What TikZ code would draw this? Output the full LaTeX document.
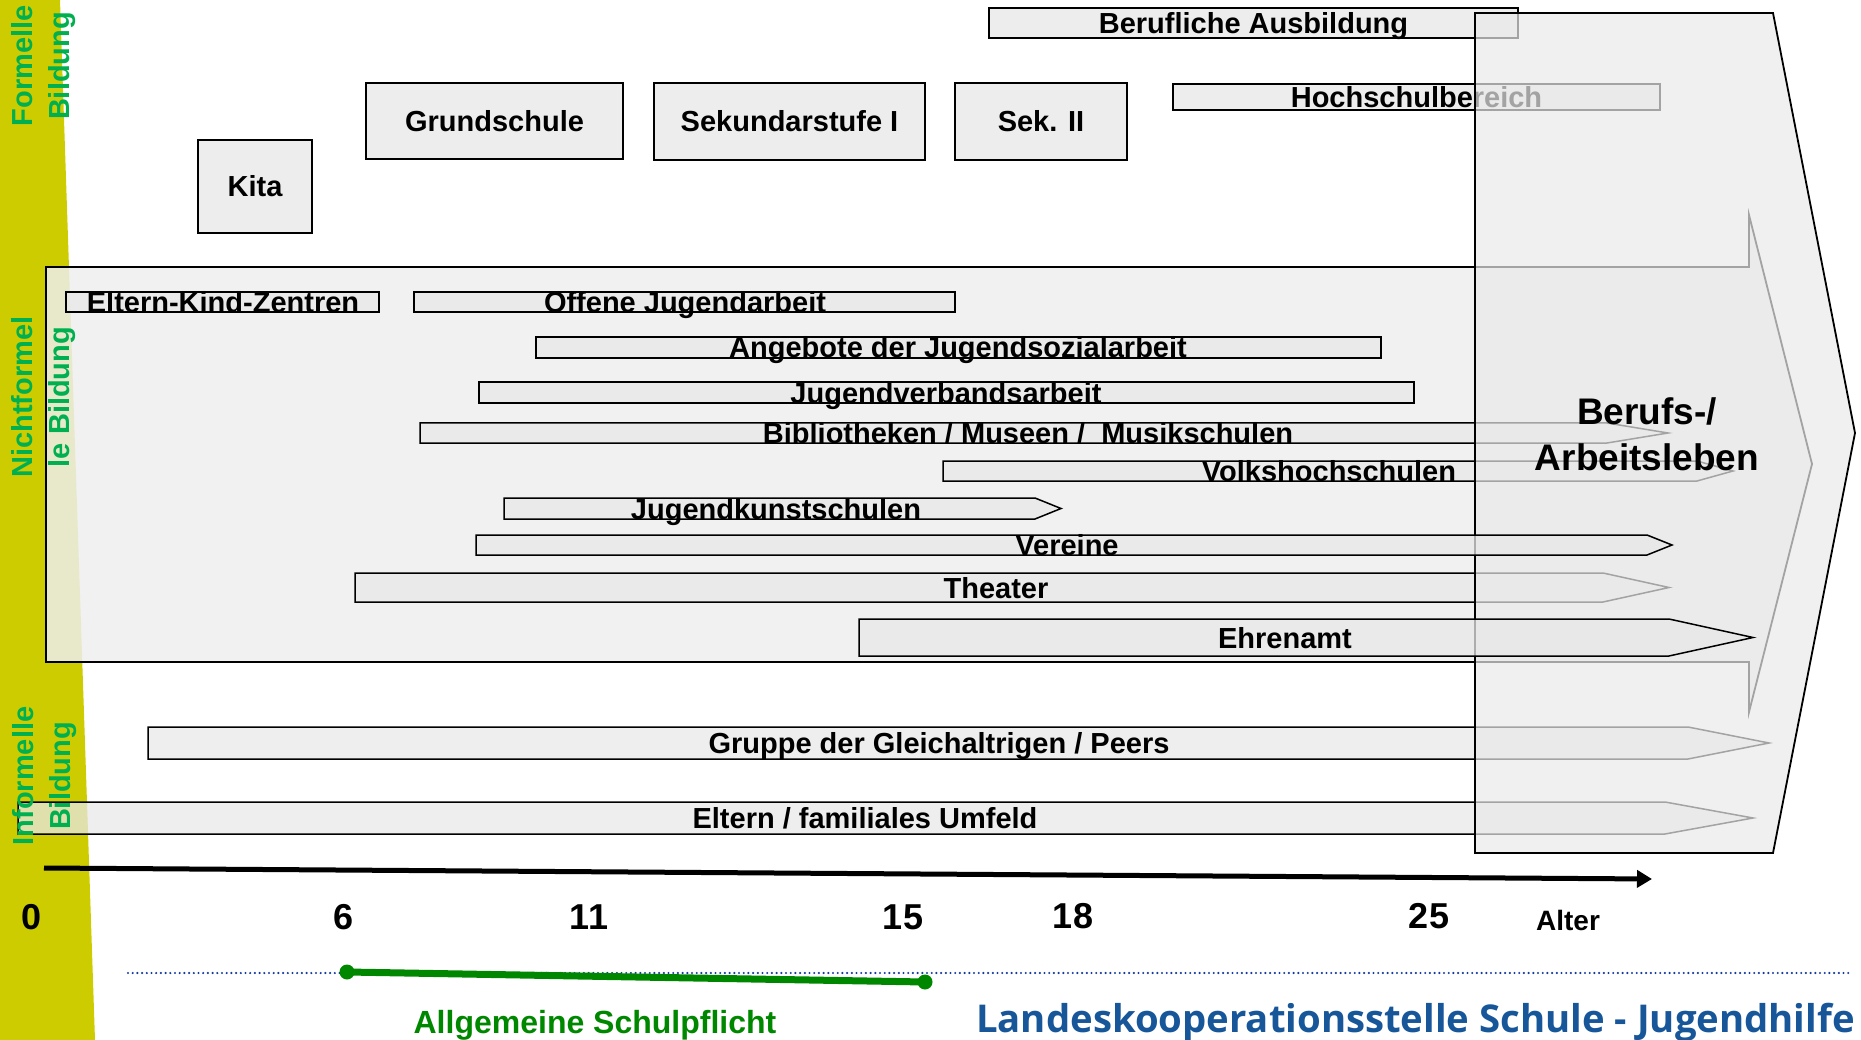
\documentclass[tikz,border=0pt]{standalone}
\usepackage{fontspec}
\setmainfont{Liberation Sans}
\newfontfamily\lkfont{Open Sans}
\usetikzlibrary{arrows.meta}

\definecolor{gelb}{RGB}{204,204,0}
\definecolor{hgruen}{RGB}{0,176,80}
\definecolor{dgruen}{RGB}{0,135,0}
\definecolor{lkblau}{RGB}{22,86,153}
\definecolor{pblau}{RGB}{20,60,160}

\begin{document}
\begin{tikzpicture}[x=1pt, y=-1pt,
    tx/.style={font=\fontsize{29}{33}\selectfont\bfseries, inner sep=0pt,
               text height=21pt, text depth=0pt},
    schule/.style={tx, draw, line width=1.6pt, fill=gray!14},
    balken/.style={draw, line width=1.5pt, fill=gray!18, fill opacity=0.75},
    feld/.style={draw, line width=1.8pt, fill=gray!13, fill opacity=0.85},
    ueber/.style={draw, line width=1.8pt, fill=gray!17, fill opacity=0.7},
    seite/.style={rotate=90, align=center, text=hgruen, inner sep=0pt,
                  font=\fontsize{29}{37}\selectfont\bfseries},
    zahl/.style={font=\fontsize{36}{40}\selectfont\bfseries, inner sep=0pt},
    achse/.style={line width=5pt, -{Triangle[length=15pt,width=17pt]}},
    punkte/.style={pblau, line width=2.4pt, line cap=round,
                   dash pattern=on 0pt off 4.7pt},
    dot/.style={circle, fill=dgruen, minimum size=15pt, inner sep=0pt},
  ]
  \useasboundingbox (0,0) rectangle (1861,1040);
  \fill[gelb] (0,0) -- (60,0) -- (95,1040) -- (0,1040) -- cycle;

  \node[schule, minimum width=114, minimum height=93] (kita) at (255,186.5) {Kita};
  \node[schule, minimum width=257, minimum height=76] (gs) at (494.5,121) {Grundschule};
  \node[schule, minimum width=271, minimum height=77] (sek1) at (789.5,121.5) {Sekundarstufe I};
  \node[schule, minimum width=172, minimum height=77] (sek2) at (1041,121.5) {Sek. II};
  \node[schule, minimum width=529, minimum height=30] (ausb) at (1253.5,23) {Berufliche Ausbildung};
  \node[schule, minimum width=487, minimum height=26] (hoch) at (1416.5,97) {Hochschulbereich};

  \draw[feld] (46,267) -- (1749,267) -- (1749,215) -- (1812,464) -- (1749,712)
    -- (1749,662) -- (46,662) -- cycle;

  \draw[balken] (66,292) rectangle (379,312);
  \node[tx] (ekz) at (223,302) {Eltern-Kind-Zentren};
  \draw[balken] (414,292) rectangle (955,312);
  \node[tx] (oja) at (685,302) {Offene Jugendarbeit};
  \draw[balken] (536,337) rectangle (1381,358);
  \node[tx] (jsa) at (958,347.5) {Angebote der Jugendsozialarbeit};
  \draw[balken] (479,382) rectangle (1414,403);
  \node[tx] (jva) at (946,392.5) {Jugendverbandsarbeit};
  \draw[balken] (420,423) -- (1607,423) -- (1668,433) -- (1607,443) -- (420,443) -- cycle;
  \node[tx] (bib) at (1028,433) {Bibliotheken / Museen /\ \ Musikschulen};
  \draw[balken] (943,461) -- (1697,461) -- (1733,471) -- (1697,481) -- (943,481) -- cycle;
  \node[tx] (vhs) at (1329,471) {Volkshochschulen};
  \draw[balken] (504,498) -- (1035,498) -- (1061,508.5) -- (1035,519) -- (504,519) -- cycle;
  \node[tx] (jks) at (776,508.5) {Jugendkunstschulen};
  \draw[balken] (355,573) -- (1603,573) -- (1669,587.5) -- (1603,602) -- (355,602) -- cycle;
  \node[tx] (thea) at (996,587.5) {Theater};
  \draw[balken] (148,727) -- (1688,727) -- (1769,743) -- (1688,759) -- (148,759) -- cycle;
  \node[tx] (peer) at (939,743) {Gruppe der Gleichaltrigen / Peers};
  \draw[balken] (18,802) -- (1665,802) -- (1753,818) -- (1665,834) -- (18,834) -- cycle;
  \node[tx] (fam) at (865,818) {Eltern / familiales Umfeld};

  \draw[ueber] (1475,13) -- (1773,13) -- (1855,433) -- (1773,853) -- (1475,853) -- cycle;

  \draw[balken] (476,535) -- (1647,535) -- (1672,545) -- (1647,555) -- (476,555) -- cycle;
  \node[tx] (ver) at (1067,545) {Vereine};
  \draw[balken] (859,619) -- (1669,619) -- (1753,637.5) -- (1669,656) -- (859,656) -- cycle;
  \node[tx] (ehr) at (1285,637.5) {Ehrenamt};

  \node[align=center, font=\fontsize{37}{46}\selectfont\bfseries] (beruf) at (1647,434) {Berufs-/\\Arbeitsleben};

  \node[seite] (formell) at (44,66) {Formelle\\Bildung};
  \node[seite] (nichtf) at (44,397) {Nichtformel\\le Bildung};
  \node[seite] (informell) at (45,776) {Informelle\\Bildung};

  \coordinate (a0) at (44,868);
  \coordinate (a1) at (1652,879);
  \draw[achse] (a0) -- (a1);
  \node[zahl] (t0) at (32,917) {0};
  \node[zahl] (t6) at (344,917) {6};
  \node[zahl] (t11) at (589,917) {11};
  \node[zahl] (t15) at (903,917) {15};
  \node[zahl] (t18) at (1073,916) {18};
  \node[zahl] (t25) at (1429,916) {25};
  \node[font=\fontsize{28}{32}\selectfont\bfseries, inner sep=0pt] (alter) at (1568,920) {Alter};

  \coordinate (d0) at (128,973);
  \coordinate (d1) at (1851,973);
  \draw[punkte] (d0) -- (d1);
  \node[dot] (s6) at (347,972) {};
  \node[dot] (s15) at (925,982) {};
  \draw[dgruen, line width=7pt] (s6.center) -- (s15.center);

  \node[anchor=base, text=dgruen, font=\fontsize{32}{36}\selectfont\bfseries] (pflicht) at (595,1033) {Allgemeine Schulpflicht};
  \node[anchor=base west, inner sep=0pt, text=lkblau, font=\lkfont\bfseries\fontsize{38.3}{42}\selectfont] (lks) at (976,1032) {Landeskooperationsstelle Schule - Jugendhilfe};
\end{tikzpicture}
\end{document}
